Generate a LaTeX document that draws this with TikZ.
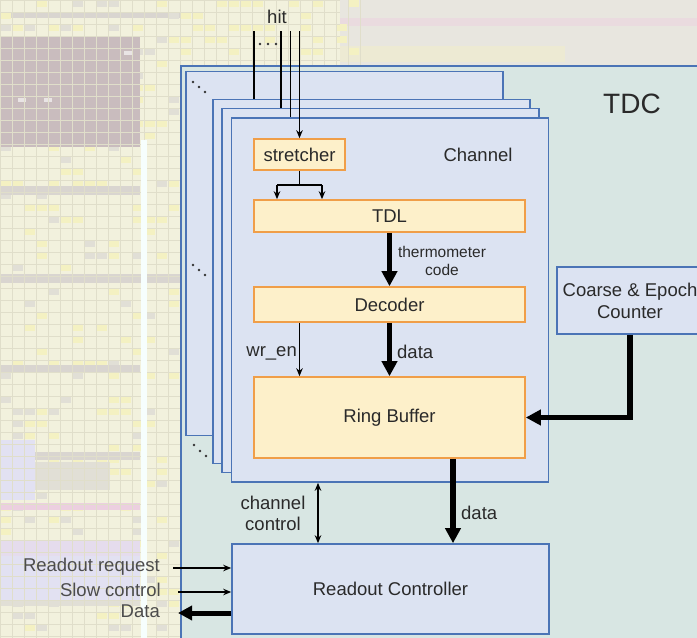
\documentclass[tikz,border=0pt]{standalone}
\usepackage{fontspec}
\setmainfont{Liberation Sans}
\usetikzlibrary{arrows.meta}
\definecolor{tdcfill}{HTML}{D8E6E3}
\definecolor{blueline}{HTML}{4B74B6}
\definecolor{chfill}{HTML}{DCE3F2}
\definecolor{orfill}{HTML}{FDF0CA}
\definecolor{orline}{HTML}{F09E48}
\definecolor{txt}{HTML}{2A2A2A}
\definecolor{bgy}{HTML}{F2F1DD}
\definecolor{gridc}{HTML}{E0DECA}
\definecolor{cellY}{HTML}{F4F1C2}
\definecolor{cellG}{HTML}{E1DFD6}
\definecolor{mauve}{HTML}{C9BCBE}
\definecolor{band}{HTML}{D9D5D0}
\definecolor{lav}{HTML}{E2E1F2}
\definecolor{pinkb}{HTML}{ECCFE0}
\definecolor{topgray}{HTML}{E8E6DF}
\tikzset{
  chbox/.style={draw=blueline, fill=chfill, line width=1.6pt, inner sep=0pt, minimum width=317pt, minimum height=364pt},
  bluebox/.style={draw=blueline, fill=chfill, line width=1.6pt, inner sep=0pt, font=\fontsize{18.5}{22}\selectfont, text=txt, align=center},
  orbox/.style={draw=orline, fill=orfill, line width=1.6pt, inner sep=0pt, font=\fontsize{18.5}{22}\selectfont, text=txt},
  lbl/.style={font=\fontsize{18.5}{21}\selectfont, text=txt, inner sep=0pt, align=center},
  smalllbl/.style={font=\fontsize{15.5}{18}\selectfont, text=txt, inner sep=0pt, align=center},
  leftlbl/.style={font=\fontsize{18.5}{21}\selectfont, text=black!70, inner sep=0pt, anchor=east},
  wire/.style={draw=black, line width=1.5pt},
  smallarrow/.style={draw=black, line width=1.5pt, -{Stealth[length=8pt,width=6.5pt]}},
  bigarrow/.style={draw=black, line width=5.5pt, -{Triangle[length=15pt,width=15pt]}},
  dotmark/.style={fill=black!80}
}
\begin{document}
\begin{tikzpicture}[x=1pt,y=-1pt]
\useasboundingbox (0,0) rectangle (697,638);
\clip (0,0) rectangle (697,638);
% ---------- background (FPGA floorplan) ----------
\fill[bgy] (0,0) rectangle (697,638);
\fill[topgray] (340,0) rectangle (697,66);
\fill[pinkb!50!topgray] (340,18) rectangle (697,26);
\fill[cellY!40!topgray] (340,46) rectangle (565,62);
\fill[band] (0,12) rectangle (180,18);
\pgfmathsetseed{7}
\foreach \k in {1,...,260}{
  \pgfmathtruncatemacro{\cx}{random(0,14)*12}
  \pgfmathtruncatemacro{\cy}{random(0,52)*12}
  \pgfmathtruncatemacro{\cc}{random(1,3)}
  \ifnum\cc=1
    \fill[cellG] (\cx,\cy) rectangle ++(11,7);
  \else
    \fill[cellY] (\cx,\cy) rectangle ++(11,7);
  \fi
}
\foreach \k in {1,...,40}{
  \pgfmathtruncatemacro{\cx}{180+random(0,14)*12}
  \pgfmathtruncatemacro{\cy}{random(0,4)*12}
  \fill[cellY] (\cx,\cy) rectangle ++(11,7);
}
\fill[mauve] (0,37) rectangle (140,147);
\fill[white!60!mauve] (18,98) rectangle (26,102);
\fill[white!60!mauve] (44,98) rectangle (52,102);
\fill[white!60!mauve] (124,51) rectangle (132,55);
\fill[band] (0,186) rectangle (140,195);
\fill[band] (0,274) rectangle (180,283);
\fill[band] (0,365) rectangle (140,373);
\fill[band] (30,452) rectangle (140,460);
\fill[lav] (0,440) rectangle (35,500);
\fill[cellG] (35,462) rectangle (110,490);
\fill[pinkb] (0,503) rectangle (140,510);
\fill[lav!70!pinkb] (0,540) rectangle (140,556);
\fill[lav] (0,556) rectangle (140,600);
\fill[cellG] (0,600) rectangle (140,606);
\foreach \gx in {0,12,...,180} \draw[gridc, line width=0.6pt] (\gx,0) -- (\gx,638);
\foreach \gy in {0,12,...,636} \draw[gridc, line width=0.6pt] (0,\gy) -- (180,\gy);
\foreach \gx in {192,204,...,360} \draw[gridc, line width=0.6pt] (\gx,0) -- (\gx,66);
\foreach \gy in {0,12,...,60} \draw[gridc, line width=0.6pt] (180,\gy) -- (340,\gy);
\fill[bgy!60!cyan!8] (141,140) rectangle (147,638);
% ---------- TDC ----------
\node[draw=blueline, fill=tdcfill, line width=1.6pt, minimum width=539pt, minimum height=594pt, inner sep=0pt] (tdc) at (450.5,363) {};
\node[font=\fontsize{28}{30}\selectfont, text=txt] (tdclbl) at (632,104) {TDC};
% channels
\node[chbox] (ch1) at (344.5,253.5) {};
\node[chbox] (ch2) at (371.5,281.5) {};
\node[chbox] (ch3) at (380.5,290.5) {};
\node[chbox] (ch4) at (390,300) {};
\node[lbl] (chl) at (478,155) {Channel};
% dots
\foreach \p in {(193,82),(199,87),(205,92),(193,265),(199,270),(205,275),(194,445),(200,451),(206,456),(260,44),(268,44),(276,44)}
  \fill[dotmark] \p circle (1.4pt);
% blocks
\node[orbox, minimum width=91pt, minimum height=31pt] (st) at (299.5,154.5) {stretcher};
\node[orbox, minimum width=271pt, minimum height=32pt] (tdl) at (389.5,216) {TDL};
\node[orbox, minimum width=271pt, minimum height=35pt] (dec) at (389.5,304.5) {Decoder};
\node[orbox, minimum width=271pt, minimum height=81pt] (rb) at (389.5,417.5) {Ring Buffer};
\node[bluebox, minimum width=317pt, minimum height=90pt] (rc) at (390.5,589) {Readout Controller};
\node[bluebox, minimum width=146pt, minimum height=67pt] (cnt) at (630,300.5) {Coarse \& Epoch\\Counter};
% hit lines
\node[lbl] (hit) at (277,17) {hit};
\coordinate (h1) at (254,31);
\coordinate (h2) at (281,31);
\coordinate (h3) at (290.5,31);
\coordinate (h4) at (299.5,31);
\draw[wire] (h1) -- (h1 |- ch2.north);
\draw[wire] (h2) -- (h2 |- ch3.north);
\draw[wire] (h3) -- (h3 |- ch4.north);
\draw[smallarrow] (h4) -- (st.north);
% fork
\coordinate (fkL) at (277,185);
\coordinate (fkR) at (322,185);
\draw[wire] (st.south) -- (st.south |- fkL);
\draw[wire] (fkL) -- (fkR);
\draw[smallarrow] (fkL) -- (fkL |- tdl.north);
\draw[smallarrow] (fkR) -- (fkR |- tdl.north);
% inner arrows
\draw[bigarrow] (tdl.south) -- (dec.north);
\node[smalllbl] (thc) at (442,261) {thermometer\\code};
\draw[bigarrow] (dec.south) -- (rb.north);
\node[lbl, anchor=west] (dl1) at (397,352) {data};
\draw[smallarrow] (dec.south -| st.south) -- (rb.north -| st.south);
\node[lbl, anchor=east] (wr) at (297,353) {wr\_en};
% counter to ring buffer
\draw[bigarrow] (cnt.south) |- (rb.east);
% ring buffer to readout
\coordinate (xd) at (453,0);
\draw[bigarrow] (rb.south -| xd) -- (rc.north -| xd);
\node[lbl, anchor=west] (dl2) at (461,513) {data};
% channel control
\coordinate (xc) at (318,0);
\draw[draw=black, line width=1.5pt, {Stealth[length=8pt,width=6.5pt]}-{Stealth[length=8pt,width=6.5pt]}] (ch4.south -| xc) -- (rc.north -| xc);
\node[lbl] (cc) at (273,513) {channel\\control};
% external I/O
\coordinate (rq) at (173,568);
\coordinate (sc) at (178,592);
\coordinate (dt) at (178,613);
\draw[smallarrow] (rq) -- (rq -| rc.west);
\draw[smallarrow] (sc) -- (sc -| rc.west);
\draw[draw=black, line width=5pt, -{Triangle[length=14pt,width=14pt]}] (dt -| rc.west) -- (dt);
\node[leftlbl] (lrq) at (160,567) {Readout request};
\node[leftlbl] (lsc) at (161,590) {Slow control};
\node[leftlbl] (ldt) at (160,611) {Data};
\end{tikzpicture}
\end{document}
